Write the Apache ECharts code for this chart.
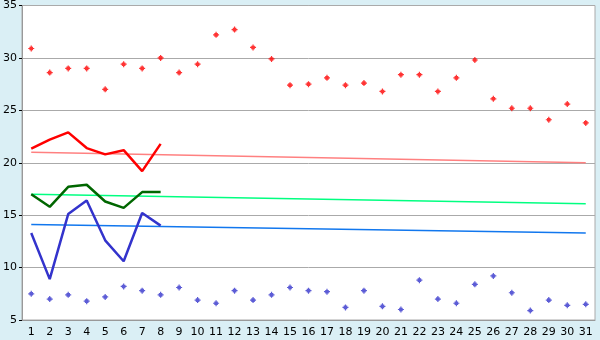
<!DOCTYPE html>
<html><head><meta charset="utf-8">
<script src="https://cdn.jsdelivr.net/npm/echarts@6/dist/echarts.min.js"></script>
<style>html,body{margin:0;padding:0;background:#DAEFF5;}#c{width:600px;height:340px;}</style>
</head><body><div id="c"></div>
<script>
var days = ['1','2','3','4','5','6','7','8','9','10','11','12','13','14','15','16','17','18','19','20','21','22','23','24','25','26','27','28','29','30','31'];
var yTicks = [5, 35, 5]; // min, max, interval
var redPoints = [30.9,28.6,29.0,29.0,27.0,29.4,29.0,30.0,28.6,29.4,32.2,32.7,31.0,29.9,27.4,27.5,28.1,27.4,27.6,26.8,28.4,28.4,26.8,28.1,29.8,26.1,25.2,25.2,24.1,25.6,23.8];
var bluePoints = [7.5,7.0,7.4,6.8,7.2,8.2,7.8,7.4,8.1,6.9,6.6,7.8,6.9,7.4,8.1,7.8,7.7,6.2,7.8,6.3,6.0,8.8,7.0,6.6,8.4,9.2,7.6,5.9,6.9,6.4,6.5];
var redLine = [21.35,22.2,22.9,21.4,20.8,21.2,19.2,21.8];
var greenLine = [17.0,15.8,17.7,17.9,16.3,15.7,17.2,17.2];
var blueLine = [13.3,8.9,15.1,16.4,12.6,10.6,15.2,14.0];
var redTrend = [21.0, 20.0];   // day 1, day 31
var greenTrend = [17.0, 16.1];
var blueTrend = [14.1, 13.3];

function ends(pair){ var a = days.map(function(){return null;}); a[0]=pair[0]; a[days.length-1]=pair[1]; return a; }
var sym = 'path://M2,0H3V1H4V2H5V3H4V4H3V5H2V4H1V3H0V2H1V1H2Z';
var font = {fontFamily:'DejaVu Sans', fontSize:11, color:'#000'};
var chart = echarts.init(document.getElementById('c'), null, {renderer:'canvas'});
chart.setOption({
  animation:false,
  backgroundColor:'#DAEFF5',
  grid:{left:20,right:5,top:5,bottom:20,show:true,backgroundColor:'#fff',borderColor:'#aaa',borderWidth:1},
  xAxis:{type:'category',data:days,boundaryGap:true,
    axisLine:{lineStyle:{color:'#999',width:1}},
    axisTick:{alignWithLabel:true,length:5,lineStyle:{color:'#000'}},
    axisLabel:Object.assign({margin:7,interval:0},font),splitLine:{show:false}},
  yAxis:{type:'value',min:yTicks[0],max:yTicks[1],interval:yTicks[2],
    axisLine:{show:true,lineStyle:{color:'#999'}},
    axisTick:{show:true,length:3,lineStyle:{color:'#000'}},
    axisLabel:Object.assign({margin:5},font),
    splitLine:{lineStyle:{color:'#aaa',width:1}}},
  series:[
    {type:'line',data:ends(redTrend),connectNulls:true,symbol:'none',lineStyle:{color:'#FF8080',width:1.5}},
    {type:'line',data:ends(greenTrend),connectNulls:true,symbol:'none',lineStyle:{color:'#00FF80',width:1.5}},
    {type:'line',data:ends(blueTrend),connectNulls:true,symbol:'none',lineStyle:{color:'#1177EE',width:1.5}},
    {type:'line',data:redLine,symbol:'none',lineStyle:{color:'#FF0000',width:2.5}},
    {type:'line',data:greenLine,symbol:'none',lineStyle:{color:'#006600',width:2.5}},
    {type:'line',data:blueLine,symbol:'none',lineStyle:{color:'#3333CC',width:2.5}},
    {type:'scatter',data:redPoints,symbol:sym,symbolSize:6,itemStyle:{color:'#FF0000'}},
    {type:'scatter',data:bluePoints,symbol:sym,symbolSize:6,itemStyle:{color:'#3333CC'}}
  ]
});
</script></body></html>
